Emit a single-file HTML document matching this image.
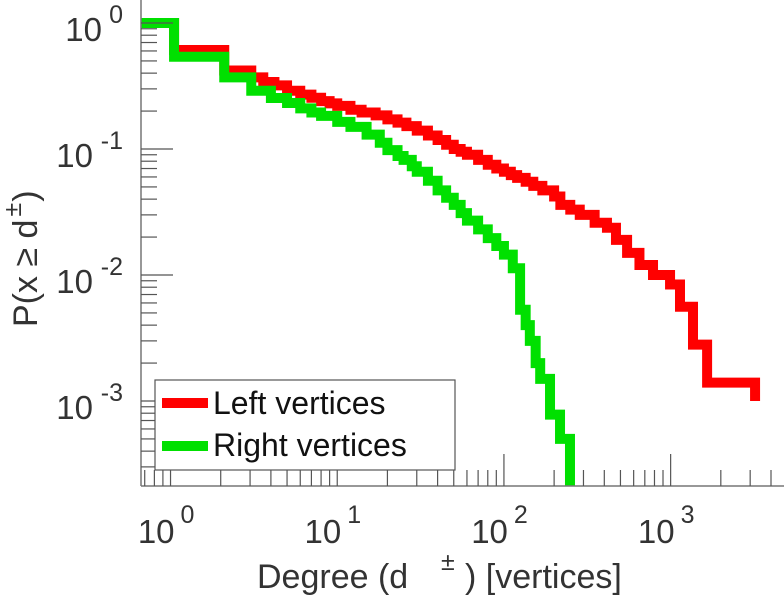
<!DOCTYPE html>
<html><head><meta charset="utf-8"><style>
html,body{margin:0;padding:0;background:#fff;}
svg{display:block;font-family:"Liberation Sans",sans-serif;}
</style></head><body>
<svg id="chart" width="784" height="600" viewBox="0 0 784 600">
<g id="marks"></g>
<g id="axes"></g>
<text transform="translate(37,327) rotate(-90)" text-anchor="start" font-size="34" fill="#333">P(x ≥ d<tspan dx="3" dy="-16" font-size="25">±</tspan><tspan dx="1" dy="16">)</tspan></text>
<g>
<text x="257" y="588" font-size="34" fill="#333">Degree (d</text>
<text x="441" y="570" font-size="25" fill="#333">±</text>
<text x="465" y="588" font-size="34" fill="#333">) [vertices]</text>
</g>
<g>
<rect x="155" y="380" width="300" height="90" fill="#fff" stroke="#555" stroke-width="1.2"/>
<line x1="162" y1="403" x2="208" y2="403" stroke="#ff0000" stroke-width="10"/>
<text x="213" y="414" font-size="32" fill="#111">Left vertices</text>
<line x1="162" y1="446" x2="208" y2="446" stroke="#00e000" stroke-width="10"/>
<text x="213" y="456" font-size="32" fill="#111">Right vertices</text>
</g>
</svg>
<script>
const redDegrees=[0.6,1.05,2.1,3.05,3.6,4.2,5,6,7,8,9,10,12,14,17,20,23,26,30,35,40,45,50,55,60,70,80,90,100,110,120,135,150,170,200,218,250,285,350,415,470,548,650,784,992,1138,1362,1655,3210];
const redValues=[1,0.61,0.42,0.37,0.34,0.32,0.29,0.27,0.255,0.24,0.23,0.22,0.205,0.195,0.185,0.172,0.162,0.152,0.14,0.128,0.118,0.108,0.10,0.095,0.09,0.082,0.075,0.07,0.066,0.062,0.059,0.055,0.051,0.047,0.042,0.036,0.033,0.03,0.026,0.0237,0.019,0.015,0.012,0.010,0.0084,0.0056,0.0028,0.0014,0.001];
const greenDegrees=[0.6,1.05,2.1,3.05,4,5,6,7,8,10,12,15,18,20,23,25,28,30,35,40,45,50,55,60,70,80,90,100,113,125,135,143,155,165,189,217,249];
const greenValues=[1,0.54,0.37,0.29,0.254,0.232,0.21,0.195,0.183,0.164,0.15,0.13,0.112,0.098,0.088,0.082,0.073,0.066,0.056,0.047,0.041,0.036,0.031,0.027,0.023,0.0196,0.017,0.0145,0.0113,0.0053,0.004,0.003,0.002,0.0015,0.00078,0.0005,0.0001];
const xTickExps=[0,1,2,3];
const yTickExps=[0,-1,-2,-3];

const NS="http://www.w3.org/2000/svg";
const X0=141,X1=784,Y0=0,Y1=486;
const xmin=Math.log10(0.665),xmax=Math.log10(0.665)+(X1-X0)/166.7;
const ymax=(23-Y0)/126,ymin=-(Y1-23)/126;
function xs(d){return X0+(Math.log10(d)-xmin)/(xmax-xmin)*(X1-X0);}
function ys(p){return Y0+(ymax-Math.log10(p))/(ymax-ymin)*(Y1-Y0);}
function el(t,a,p){const e=document.createElementNS(NS,t);for(const k in a)e.setAttribute(k,a[k]);p.appendChild(e);return e;}
const marks=document.getElementById('marks'),axes=document.getElementById('axes');
function stepPath(ds,ps){
  let d=`M${xs(ds[0])},${ys(ps[0])}`;
  for(let i=1;i<ds.length;i++){d+=`H${xs(ds[i])}V${Math.min(ys(ps[i]),Y1+20)}`;}
  return d;
}
const clip=el('clipPath',{id:'cp'},el('defs',{},document.getElementById('chart')));
el('rect',{x:X0,y:0,width:X1-X0,height:Y1},clip);
const r=el('path',{d:stepPath(redDegrees,redValues),fill:'none',stroke:'#ff0000','stroke-width':10,'clip-path':'url(#cp)'},marks);


const g=el('path',{d:stepPath(greenDegrees,greenValues),fill:'none',stroke:'#00e000','stroke-width':10,'clip-path':'url(#cp)'},marks);


el('line',{x1:X0,y1:0,x2:X0,y2:Y1,stroke:'#777','stroke-width':1.5},axes);
el('line',{x1:X0,y1:Y1,x2:X1,y2:Y1,stroke:'#777','stroke-width':1.5},axes);
for(let e=-1;e<=3;e++){for(let m=1;m<=9;m++){const v=m*Math.pow(10,e);const x=xs(v);if(x<X0+1||x>X1)continue;
 el('line',{x1:x,y1:Y1,x2:x,y2:Y1-(m==1?32:16),stroke:'#555','stroke-width':1.2},axes);}}
xTickExps.forEach(e=>{const x=xs(Math.pow(10,e));
 const t=el('text',{x:x+4,y:543,'text-anchor':'end','font-size':33,fill:'#333'},axes);
 
 
 t.textContent='10';
 const s=el('text',{x:x+10,y:523,'font-size':25,fill:'#333'},axes);
 
 
 s.textContent=String(e);});
for(let e=-4;e<=0;e++){for(let m=1;m<=9;m++){const v=m*Math.pow(10,e);const y=ys(v);if(y<0||y>Y1-1)continue;
 el('line',{x1:X0,y1:y,x2:X0+(m==1?32:16),y2:y,stroke:'#555','stroke-width':1.2},axes);}}
yTickExps.forEach(e=>{const y=ys(Math.pow(10,e));
 const t=el('text',{x:e<0?93:102,y:y+18,'text-anchor':'end','font-size':33,fill:'#333'},axes);
 
 
 t.textContent='10';
 const s=el('text',{x:123,y:y,'text-anchor':'end','font-size':25,fill:'#333'},axes);
 
 
 s.textContent=String(e);});
</script>
</body></html>
